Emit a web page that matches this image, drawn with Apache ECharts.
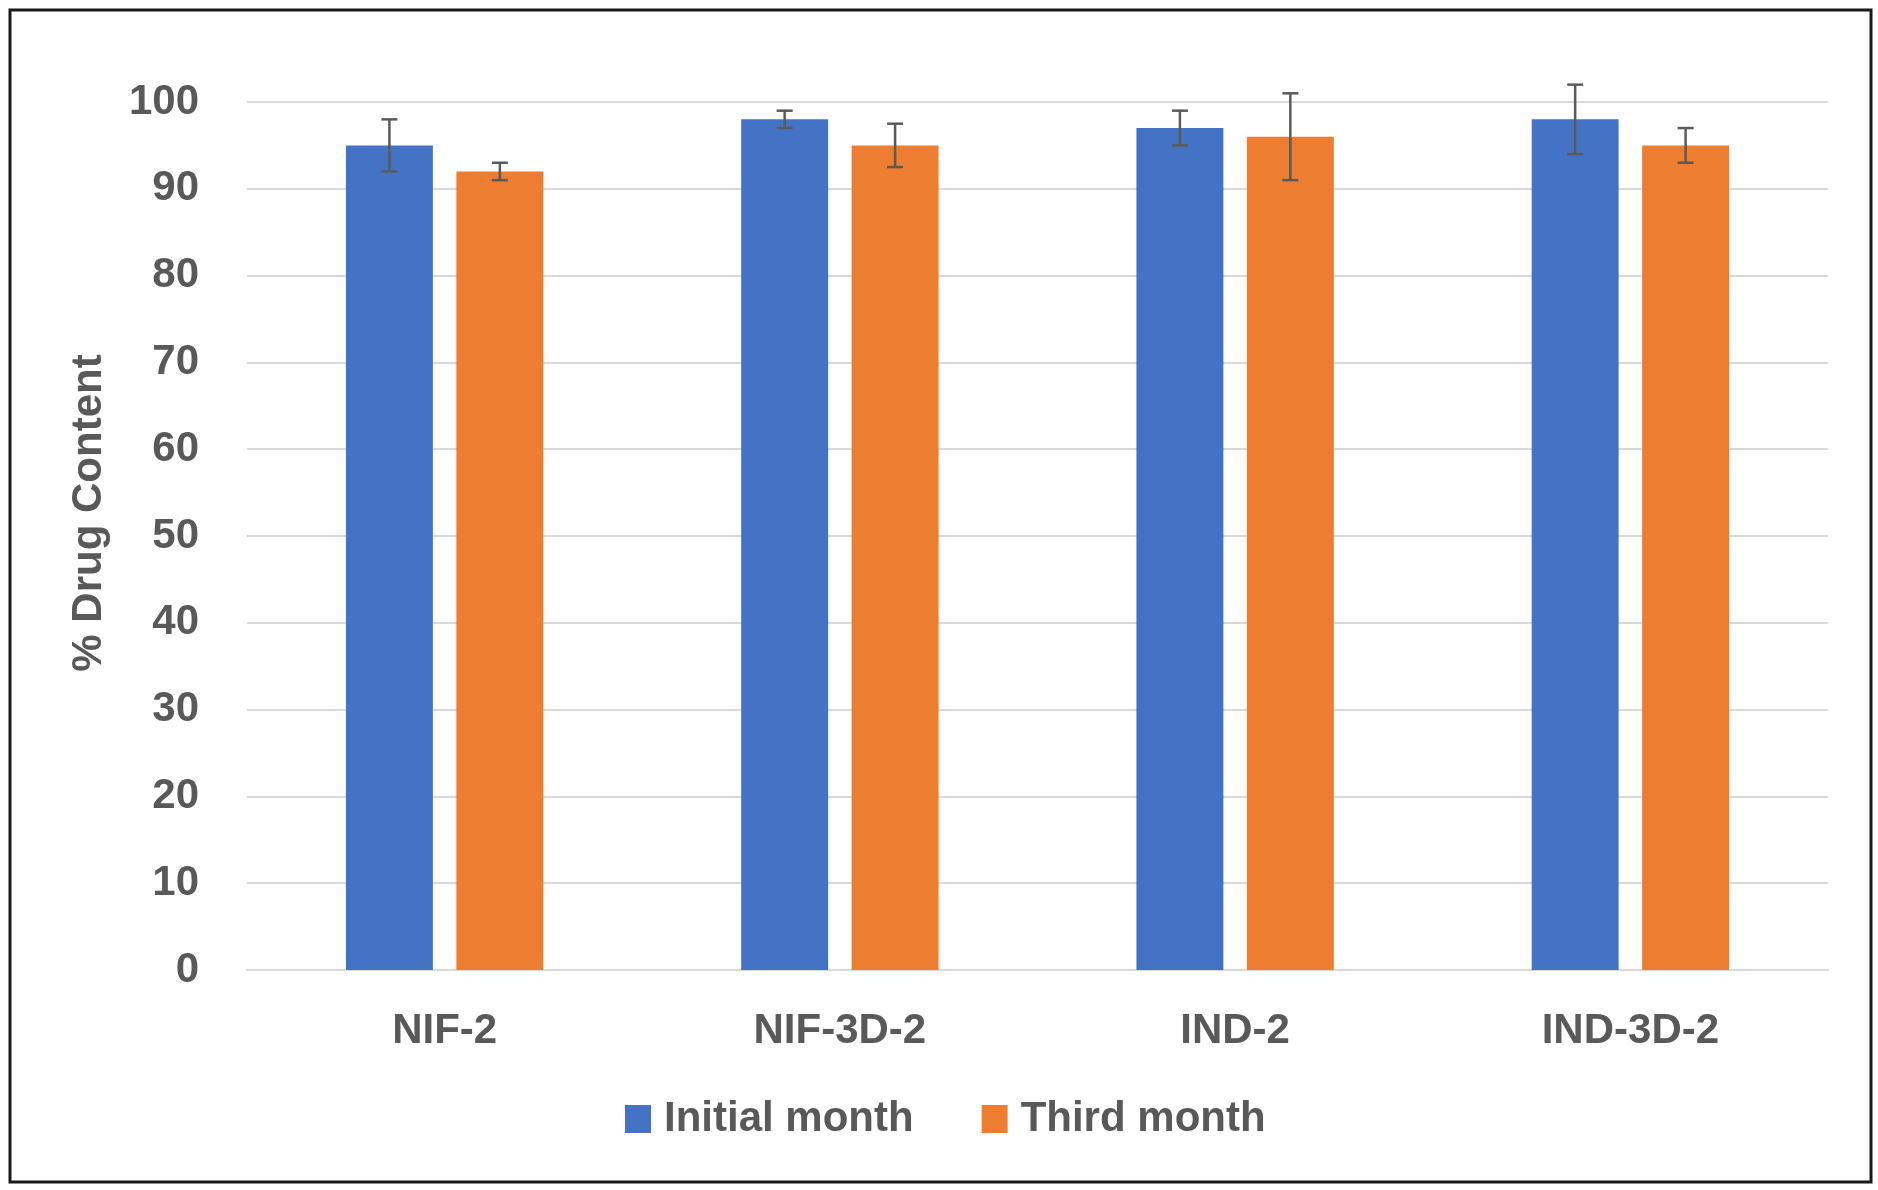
<!DOCTYPE html>
<html>
<head>
<meta charset="utf-8">
<script src="https://cdn.jsdelivr.net/npm/echarts@6/dist/echarts.min.js"></script>
<style>
html,body{margin:0;padding:0;background:#fff;}
#chart{width:1878px;height:1190px;}
</style>
</head>
<body>
<div id="chart"></div>
<script>
const categories = ['NIF-2', 'NIF-3D-2', 'IND-2', 'IND-3D-2'];
const initialMonth = [95, 98, 97, 98];
const initialErr = [3, 1, 2, 4];
const thirdMonth = [92, 95, 96, 95];
const thirdErr = [1, 2.5, 5, 2];
const yTicks = [0, 10, 20, 30, 40, 50, 60, 70, 80, 90, 100];

const BAR_W = 0.22, BAR_GAP = 0.27;
const FONT = "'Liberation Sans', Arial, sans-serif";
const TXT = '#595959';

function errSeries(name, vals, errs, side) {
  const data = vals.map((v, i) => [i, v - errs[i], v + errs[i]]);
  return {
    type: 'custom',
    name: name,
    clip: false,
    z: 10,
    silent: true,
    data: data,
    renderItem: function (params, api) {
      const band = api.size([1, 0])[0];
      const off = side * band * BAR_W * (1 + BAR_GAP) / 2;
      const lo = api.coord([api.value(0), api.value(1)]);
      const hi = api.coord([api.value(0), api.value(2)]);
      const x = lo[0] + off;
      const cap = 8;
      const st = { stroke: '#5a5a5a', lineWidth: 2.5 };
      return {
        type: 'group',
        children: [
          { type: 'line', shape: { x1: x, y1: lo[1], x2: x, y2: hi[1] }, style: st },
          { type: 'line', shape: { x1: x - cap, y1: lo[1], x2: x + cap, y2: lo[1] }, style: st },
          { type: 'line', shape: { x1: x - cap, y1: hi[1], x2: x + cap, y2: hi[1] }, style: st }
        ]
      };
    }
  };
}

const chart = echarts.init(document.getElementById('chart'), null, { renderer: 'canvas' });
chart.setOption({
  backgroundColor: '#fff',
  animation: false,
  graphic: [{
    type: 'rect',
    shape: { x: 10, y: 10, width: 1861, height: 1172 },
    style: { fill: 'none', stroke: '#1a1a1a', lineWidth: 3 },
    z: 100
  }],
  grid: { left: 247, right: 50, top: 102, bottom: 220, containLabel: false },
  legend: {
    data: ['Initial month', 'Third month'],
    left: 620,
    top: 1093,
    itemWidth: 26,
    itemHeight: 28,
    itemGap: 68,
    icon: 'rect',
    textStyle: { color: TXT, fontSize: 42, fontWeight: 'bold', fontFamily: FONT, padding: [0, 0, 0, 8] }
  },
  xAxis: {
    type: 'category',
    data: categories,
    axisLine: { show: true, lineStyle: { color: '#d9d9d9', width: 2 } },
    axisTick: { show: false },
    axisLabel: { color: TXT, fontSize: 42, fontWeight: 'bold', fontFamily: FONT, margin: 40 }
  },
  yAxis: {
    type: 'value',
    min: yTicks[0],
    max: yTicks[yTicks.length - 1],
    interval: 10,
    name: '% Drug Content',
    nameLocation: 'middle',
    nameRotate: 90,
    nameGap: 137,
    nameTextStyle: { color: TXT, fontSize: 42, fontWeight: 'bold', fontFamily: FONT, padding: [0, 0, 0, 46] },
    axisLine: { show: false },
    axisTick: { show: false },
    splitLine: { lineStyle: { color: '#d9d9d9', width: 2 } },
    axisLabel: { color: TXT, fontSize: 42, fontWeight: 'bold', fontFamily: FONT, margin: 48 }
  },
  series: [
    {
      name: 'Initial month', type: 'bar', data: initialMonth,
      barWidth: (BAR_W * 100) + '%', barGap: (BAR_GAP * 100) + '%',
      itemStyle: { color: '#4472C4' }
    },
    {
      name: 'Third month', type: 'bar', data: thirdMonth,
      barWidth: (BAR_W * 100) + '%',
      itemStyle: { color: '#ED7D31' }
    },
    errSeries('errInitial', initialMonth, initialErr, -1),
    errSeries('errThird', thirdMonth, thirdErr, 1)
  ]
});
</script>
</body>
</html>
